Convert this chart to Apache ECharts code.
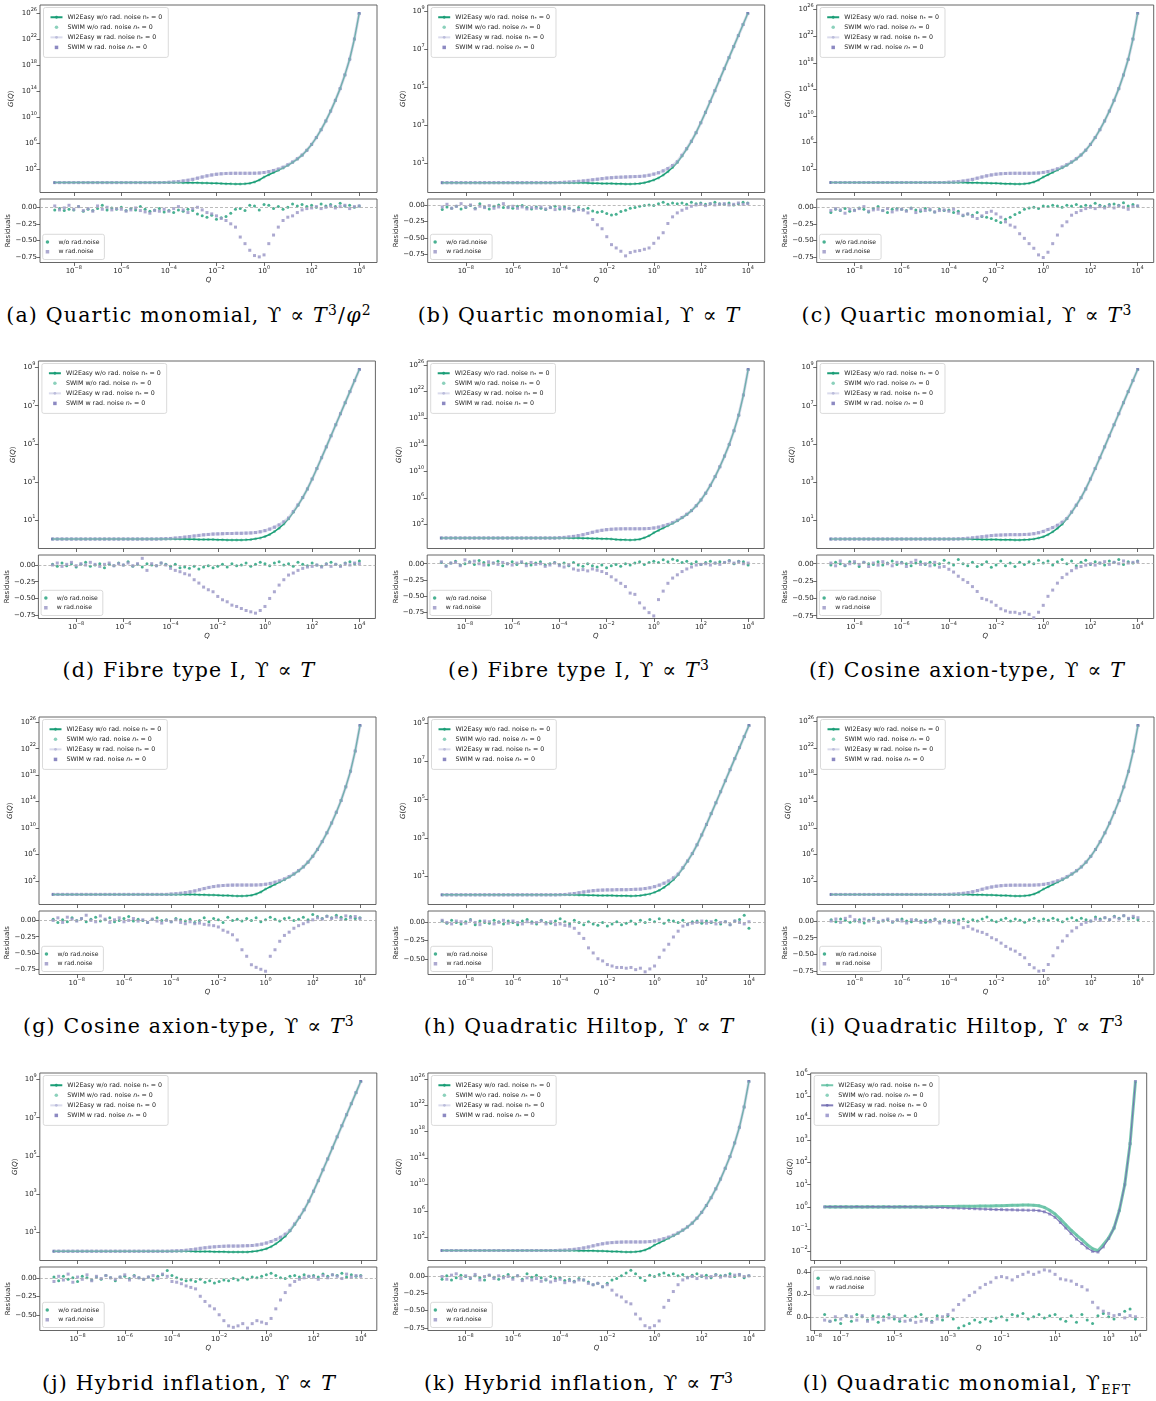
<!DOCTYPE html>
<html><head><meta charset="utf-8">
<script src="https://cdn.jsdelivr.net/npm/echarts@6.0.0/dist/echarts.min.js"></script>
<style>
html,body{margin:0;padding:0;background:#fff}
body{width:1156px;height:1401px;position:relative;overflow:hidden}
.p{position:absolute;width:378px;height:292px}
.cap{position:absolute;width:378px;text-align:center;font-family:'DejaVu Serif','Liberation Serif',serif;font-size:20.5px;line-height:24px;color:#000;white-space:nowrap;letter-spacing:1.2px}
.cap sup{font-size:0.68em;line-height:0;vertical-align:0.5em}
.cap sub{font-size:0.62em;line-height:0;vertical-align:-0.3em}
</style></head><body>
<script>
// ---------- x grids (log10 Q) ----------
const LOGQ = [
-9.0,-8.8,-8.6,-8.4,-8.2,
-8.0,-7.8,-7.6,-7.4,-7.2,
-7.0,-6.8,-6.6,-6.4,-6.2,
-6.0,-5.8,-5.6,-5.4,-5.2,
-5.0,-4.8,-4.6,-4.4,-4.2,
-4.0,-3.8,-3.6,-3.4,-3.2,
-3.0,-2.8,-2.6,-2.4,-2.2,
-2.0,-1.8,-1.6,-1.4,-1.2,
-1.0,-0.8,-0.6,-0.4,-0.2,
0.0,0.2,0.4,0.6,0.8,
1.0,1.2,1.4,1.6,1.8,
2.0,2.2,2.4,2.6,2.8,
3.0,3.2,3.4,3.6,3.8,
4.0];
const LOGQ_L = [
-7.6,-7.4,-7.2,
-7.0,-6.8,-6.6,-6.4,-6.2,
-6.0,-5.8,-5.6,-5.4,-5.2,
-5.0,-4.8,-4.6,-4.4,-4.2,
-4.0,-3.8,-3.6,-3.4,-3.2,
-3.0,-2.8,-2.6,-2.4,-2.2,
-2.0,-1.8,-1.6,-1.4,-1.2,
-1.0,-0.8,-0.6,-0.4,-0.2,
0.0,0.2,0.4,0.6,0.8,
1.0,1.2,1.4,1.6,1.8,
2.0,2.2,2.4,2.6,2.8,
3.0,3.2,3.4,3.6,3.8,
4.0];

// ---------- tick labels (exponents / values) ----------
const X_TICKS = [-8,-6,-4,-2,0,2,4];
const X_TICKS_L = [-8,-7,-5,-3,-1,1,3,4];
const Y_TICKS_A = [2,6,10,14,18,22,26];
const Y_TICKS_B = [1,3,5,7,9];
const Y_TICKS_L = [-2,-1,0,1,2,3,4,5,6];
const R_TICKS = [0,-0.25,-0.5,-0.75];
const R_TICKS_S = [0,-0.25,-0.5];
const R_TICKS_L = [0,0.2,0.4];

const MAIN_NAMES = ['WI2Easy w/o rad. noise n* = 0','SWIM w/o rad. noise n* = 0','WI2Easy w rad. noise n* = 0','SWIM w rad. noise n* = 0'];
const RES_NAMES = ['w/o rad.noise','w rad.noise'];
const CAPTIONS = [
'(a) Quartic monomial, ϒ ∝ <i>T</i><sup>3</sup>/<i>φ</i><sup>2</sup>',
'(b) Quartic monomial, ϒ ∝ <i>T</i>',
'(c) Quartic monomial, ϒ ∝ <i>T</i><sup>3</sup>',
'(d) Fibre type I, ϒ ∝ <i>T</i>',
'(e) Fibre type I, ϒ ∝ <i>T</i><sup>3</sup>',
'(f) Cosine axion-type, ϒ ∝ <i>T</i>',
'(g) Cosine axion-type, ϒ ∝ <i>T</i><sup>3</sup>',
'(h) Quadratic Hiltop, ϒ ∝ <i>T</i>',
'(i) Quadratic Hiltop, ϒ ∝ <i>T</i><sup>3</sup>',
'(j) Hybrid inflation, ϒ ∝ <i>T</i>',
'(k) Hybrid inflation, ϒ ∝ <i>T</i><sup>3</sup>',
'(l) Quadratic monomial, ϒ<sub>EFT</sub>'];

// ---------- log10 G(Q) and residuals, per panel ----------
const a_G_wo = [null,0,0,0,0, 0,0,0,0,0, 0,0,0,0,0, 0,0,0,0,0, 0,0,0,0,0,
0,0,0,-0.01,-0.02, -0.03,-0.04,-0.05,-0.07,-0.09, -0.11,-0.14,-0.17,-0.19,-0.2, -0.21,-0.18,-0.1,0.1,0.4,
0.85,1.2,1.55,1.9,2.25, 2.65,3.1,3.6,4.2,4.95, 5.85,6.9,8.1,9.45,10.95, 12.6,14.4,16.5,18.9,22.0, 25.9];
const a_G_w = [null,0,0,0,0, 0,0,0,0,0, 0,0,0,0,0, 0,0,0,0,0, 0,0,0,0,0.02,
0.05,0.1,0.16,0.25,0.36, 0.5,0.68,0.86,1.03,1.17, 1.28,1.35,1.4,1.42,1.43, 1.43,1.43,1.43,1.44,1.47,
1.55,1.68,1.85,2.07,2.35, 2.72,3.15,3.65,4.22,4.95, 5.85,6.9,8.1,9.45,10.95, 12.6,14.4,16.5,18.9,22.0, 25.9];
const a_R_wo = [null,-0.04,-0.02,-0.05,-0.03, -0.04,0.01,-0.06,-0.03,-0.05, -0.02,0.03,-0.04,-0.01,-0.03,
0.00,-0.05,-0.02,-0.04,0.01, -0.03,-0.06,-0.04,-0.02,-0.07, -0.05,-0.08,-0.04,-0.06,-0.03,
-0.05,-0.10,-0.13,-0.15,-0.12, -0.18,-0.16,-0.14,-0.09,-0.03, -0.02,-0.05,0.03,0.02,-0.04,
0.04,0.03,-0.02,0.01,-0.03, 0.00,0.05,0.02,0.04,0.01, 0.03,0.00,0.05,0.02,0.04, 0.01,0.06,0.02,0.03,0.00, 0.02];
const a_R_w = [null,0.02,-0.04,-0.01,0.03, -0.03,0.01,-0.05,-0.02,-0.06, 0.02,-0.03,0.00,-0.04,-0.02,
-0.03,-0.06,-0.04,-0.01,-0.05, -0.07,-0.09,-0.05,-0.06,-0.03, -0.06,-0.02,0.01,-0.04,-0.08,
-0.02,0.00,-0.04,-0.08,-0.10, -0.13,-0.17,-0.20,-0.25,-0.30, -0.45,-0.55,-0.65,-0.73,-0.75,
-0.72,-0.55,-0.42,-0.30,-0.20, -0.15,-0.13,-0.08,-0.04,-0.02, -0.01,0.01,-0.02,0.00,0.02, -0.01,0.01,0.03,-0.02,0.01, 0.02];

const b_G_wo = [0,0,0,0,0, 0,0,0,0,0, 0,0,0,0,0, 0,0,0,0,0, 0,0,0,0,0,
0,0,0,0,-0.01, -0.01,-0.02,-0.03,-0.03,-0.04, -0.05,-0.05,-0.06,-0.06,-0.07, -0.07,-0.06,-0.04,0,0.06,
0.14,0.25,0.4,0.58,0.8, 1.06,1.4,1.77,2.17,2.63, 3.15,3.7,4.27,4.84,5.42, 6.0,6.58,7.16,7.74,8.32, 8.9];
const b_G_w = [0,0,0,0,0, 0,0,0,0,0, 0,0,0,0,0, 0,0,0,0,0, 0,0,0,0,0,
0.01,0.02,0.03,0.05,0.07, 0.09,0.12,0.15,0.18,0.21, 0.24,0.26,0.28,0.29,0.3, 0.31,0.32,0.33,0.35,0.39,
0.45,0.52,0.62,0.74,0.9, 1.1,1.44,1.79,2.18,2.63, 3.15,3.7,4.27,4.84,5.42, 6.0,6.58,7.16,7.74,8.32, 8.9];
const b_R_wo = [-0.07,-0.03,-0.05,-0.02,-0.06, -0.04,-0.01,-0.05,0.02,-0.03, -0.06,-0.02,0.00,-0.04,-0.03,
-0.05,-0.02,-0.01,-0.04,-0.06, -0.03,-0.05,-0.07,-0.04,-0.02, -0.06,-0.03,-0.05,-0.08,-0.04,
-0.07,-0.05,-0.09,-0.11,-0.10, -0.13,-0.15,-0.14,-0.10,-0.08, -0.05,-0.04,-0.02,-0.01,0.00,
-0.01,0.02,0.04,0.01,0.03, 0.02,0.03,0.01,0.04,0.02, 0.03,0.01,0.02,0.04,0.02, 0.01,0.03,0.00,0.02,0.04, 0.03];
const b_R_w = [-0.03,0.01,-0.05,-0.02,0.02, -0.03,0.00,-0.06,-0.02,-0.04, -0.01,-0.05,-0.03,0.02,-0.04,
-0.02,-0.05,-0.03,-0.06,-0.04, -0.05,-0.03,-0.06,-0.04,-0.07, -0.04,-0.06,-0.05,-0.09,-0.07,
-0.08,-0.12,-0.22,-0.30,-0.36, -0.48,-0.60,-0.65,-0.70,-0.77, -0.72,-0.70,-0.69,-0.67,-0.65,
-0.58,-0.50,-0.42,-0.28,-0.18, -0.12,-0.08,-0.05,-0.02,0.00, 0.01,-0.01,0.02,0.00,0.01, 0.02,0.00,0.01,0.03,0.01, 0.02];

const c_G_wo = [0,0,0,0,0, 0,0,0,0,0, 0,0,0,0,0, 0,0,0,0,0, 0,0,0,0,0,
0,0,0,-0.01,-0.02, -0.03,-0.04,-0.06,-0.08,-0.1, -0.12,-0.15,-0.18,-0.2,-0.22, -0.22,-0.2,-0.12,0.08,0.38,
0.82,1.17,1.52,1.87,2.22, 2.6,3.04,3.53,4.12,4.85, 5.73,6.76,7.94,9.26,10.73, 12.35,14.11,16.17,18.52,21.56, 25.4];
const c_G_w = [0,0,0,0,0, 0,0,0,0,0, 0,0,0,0,0, 0,0,0,0,0, 0,0,0,0,0,
0.04,0.08,0.14,0.22,0.33, 0.47,0.65,0.83,1.0,1.14, 1.25,1.32,1.36,1.38,1.39, 1.39,1.39,1.39,1.4,1.43,
1.52,1.65,1.83,2.05,2.32, 2.68,3.1,3.58,4.14,4.87, 5.73,6.76,7.94,9.26,10.73, 12.35,14.11,16.17,18.52,21.56, 25.4];
const c_R_wo = [-0.08,-0.03,-0.05,-0.02,-0.06, -0.04,-0.01,-0.03,-0.07,-0.02, 0.01,-0.05,-0.08,-0.03,-0.02,
-0.03,-0.05,-0.01,-0.04,-0.06, -0.02,-0.04,-0.07,-0.03,-0.05, -0.04,-0.08,-0.06,-0.13,-0.10,
-0.12,-0.08,-0.14,-0.15,-0.17, -0.20,-0.23,-0.18,-0.15,-0.11, -0.08,-0.03,-0.01,0.00,-0.02,
0.02,0.01,0.03,0.02,0.00, 0.03,0.02,0.04,0.01,0.03, 0.02,0.06,0.03,0.01,0.04, 0.05,0.03,0.07,0.02,0.04, 0.02];
const c_R_w = [-0.05,-0.02,-0.04,-0.09,-0.03, -0.05,-0.02,0.01,-0.06,-0.04, -0.03,-0.05,-0.02,-0.07,-0.04,
-0.03,-0.06,-0.02,-0.08,-0.04, -0.05,-0.03,-0.07,-0.05,-0.04, -0.06,-0.03,-0.09,-0.12,-0.10,
-0.14,-0.17,-0.13,-0.08,-0.06, -0.10,-0.15,-0.22,-0.27,-0.30, -0.40,-0.47,-0.55,-0.62,-0.72,
-0.76,-0.68,-0.55,-0.42,-0.28, -0.22,-0.12,-0.08,-0.05,-0.02, 0.00,-0.02,0.01,-0.01,0.02, -0.01,0.02,0.00,-0.03,0.01, 0.02];

const d_G_wo = [0,0,0,0,0, 0,0,0,0,0, 0,0,0,0,0, 0,0,0,0,0, 0,0,0,0,0,
0,0,0,0,-0.01, -0.01,-0.02,-0.02,-0.03,-0.03, -0.04,-0.04,-0.05,-0.05,-0.05, -0.05,-0.04,-0.02,0.01,0.06,
0.13,0.24,0.39,0.57,0.79, 1.06,1.4,1.77,2.17,2.63, 3.15,3.7,4.27,4.84,5.42, 6.0,6.58,7.16,7.74,8.32, 8.9];
const d_G_w = [0,0,0,0,0, 0,0,0,0,0, 0,0,0,0,0, 0,0,0,0,0, 0,0,0,0.01,0.02,
0.03,0.05,0.07,0.1,0.13, 0.16,0.19,0.22,0.24,0.26, 0.27,0.28,0.29,0.29,0.3, 0.3,0.31,0.32,0.34,0.38,
0.44,0.52,0.62,0.74,0.9, 1.1,1.44,1.79,2.18,2.63, 3.15,3.7,4.27,4.84,5.42, 6.0,6.58,7.16,7.74,8.32, 8.9];
const d_R_wo = [0.01,-0.02,0.03,-0.01,0.02, -0.03,0.01,0.04,-0.02,0.00, 0.02,-0.04,0.01,-0.01,0.03,
0.00,0.05,-0.02,0.01,-0.03, 0.02,0.00,-0.01,0.03,0.01, -0.02,0.01,-0.04,-0.03,-0.05,
-0.02,-0.06,-0.03,-0.01,-0.04, -0.02,0.01,-0.03,0.02,-0.01, 0.00,0.03,-0.02,0.01,0.04,
0.02,-0.01,0.03,0.05,0.00, 0.02,-0.02,0.04,0.01,-0.01, 0.03,0.00,-0.02,0.02,0.04, 0.01,-0.01,0.03,0.05,0.02, 0.06];
const d_R_w = [0.00,0.03,-0.02,0.01,0.04, -0.01,0.02,0.00,0.04,0.01, -0.02,0.01,0.03,-0.01,0.02,
0.00,0.03,-0.01,0.02,0.10, -0.08,0.02,-0.01,0.03,0.00, -0.05,-0.08,-0.10,-0.13,-0.15,
-0.22,-0.27,-0.33,-0.37,-0.40, -0.47,-0.52,-0.55,-0.60,-0.62, -0.65,-0.68,-0.70,-0.72,-0.68,
-0.62,-0.50,-0.40,-0.30,-0.22, -0.15,-0.12,-0.08,-0.05,-0.03, -0.02,0.00,-0.03,0.01,-0.02, 0.01,-0.02,0.02,0.00,0.03, 0.02];

const e_G_wo = [0,0,0,0,0, 0,0,0,0,0, 0,0,0,0,0, 0,0,0,0,0, 0,0,0,0,0,
0,0,0,-0.01,-0.02, -0.03,-0.05,-0.07,-0.09,-0.11, -0.13,-0.17,-0.21,-0.25,-0.28, -0.3,-0.27,-0.18,0.02,0.33,
0.78,1.14,1.5,1.85,2.2, 2.58,3.03,3.51,4.1,4.83, 5.71,6.73,7.91,9.22,10.69, 12.3,14.06,16.1,18.45,21.48, 25.3];
const e_G_w = [0,0,0,0,0, 0,0,0,0,0, 0,0,0,0,0, 0,0,0,0,0, 0,0,0,0,0,
0.04,0.09,0.15,0.24,0.35, 0.49,0.67,0.85,1.02,1.15, 1.25,1.31,1.35,1.37,1.38, 1.38,1.38,1.38,1.39,1.42,
1.5,1.63,1.81,2.03,2.3, 2.66,3.08,3.56,4.12,4.84, 5.71,6.73,7.91,9.22,10.69, 12.3,14.06,16.1,18.45,21.48, 25.3];
const e_R_wo = [0.02,-0.03,0.01,0.04,-0.02, 0.00,0.03,-0.01,0.05,0.02, -0.02,0.01,0.04,-0.03,0.00,
0.03,-0.01,0.02,0.00,-0.02, 0.01,0.03,-0.02,0.00,0.02, -0.01,0.01,-0.03,0.02,-0.02,
-0.04,0.00,-0.03,-0.05,-0.02, -0.06,-0.03,-0.01,-0.04,0.00, -0.02,0.01,0.03,-0.01,0.02,
0.04,0.02,0.06,0.03,0.07, 0.05,0.02,0.04,0.00,0.03, -0.01,0.02,0.04,0.01,0.03, 0.02,0.05,0.00,0.04,0.03, -0.02];
const e_R_w = [0.03,-0.04,0.01,0.02,-0.03, 0.06,0.02,0.04,0.00,-0.02, 0.03,0.01,-0.01,0.02,0.00,
-0.02,0.01,0.03,-0.03,0.02, -0.01,0.00,-0.04,-0.02,0.01, -0.03,-0.05,-0.02,-0.08,-0.10,
-0.09,-0.11,-0.08,-0.10,-0.12, -0.15,-0.20,-0.25,-0.30,-0.35, -0.45,-0.47,-0.60,-0.68,-0.75,
-0.80,-0.55,-0.42,-0.30,-0.22, -0.17,-0.12,-0.08,-0.05,-0.02, -0.01,0.00,-0.02,0.01,-0.01, 0.02,0.04,0.01,0.03,0.00, 0.01];

const f_G_wo = [0,0,0,0,0, 0,0,0,0,0, 0,0,0,0,0, 0,0,0,0,0, 0,0,0,0,0,
0,0,0,0,0, -0.01,-0.01,-0.02,-0.02,-0.03, -0.03,-0.04,-0.04,-0.04,-0.05, -0.05,-0.04,-0.03,0,0.05,
0.12,0.23,0.38,0.56,0.78, 1.06,1.4,1.77,2.17,2.63, 3.15,3.7,4.27,4.84,5.42, 6.0,6.58,7.16,7.74,8.32, 8.9];
const f_G_w = [0,0,0,0,0, 0,0,0,0,0, 0,0,0,0,0, 0,0,0,0,0, 0,0,0,0,0,
0,0,0.01,0.02,0.04, 0.06,0.09,0.12,0.15,0.18, 0.2,0.21,0.22,0.23,0.23, 0.23,0.24,0.25,0.28,0.33,
0.4,0.5,0.6,0.72,0.88, 1.08,1.42,1.78,2.17,2.63, 3.15,3.7,4.27,4.84,5.42, 6.0,6.58,7.16,7.74,8.32, 8.9];
const f_R_wo = [-0.02,0.02,0.00,-0.03,0.03, 0.01,-0.04,0.02,0.00,-0.01, 0.03,-0.02,0.01,0.04,-0.01,
0.02,0.00,-0.03,0.01,0.03, -0.01,0.02,-0.02,0.00,0.05, 0.01,-0.02,0.06,0.00,-0.03,
0.02,-0.04,-0.01,0.03,-0.05, -0.02,0.04,-0.03,0.01,-0.04, 0.02,-0.01,0.03,0.00,0.05,
0.01,0.04,-0.02,0.03,0.06, 0.00,0.04,-0.03,0.02,0.05, -0.01,0.03,0.01,-0.02,0.04, 0.02,0.06,-0.01,0.03,0.01, 0.04];
const f_R_w = [0.01,-0.03,0.04,-0.02,0.00, 0.03,-0.01,0.02,-0.04,0.01, -0.02,0.03,0.00,-0.03,0.02,
0.01,-0.04,0.02,0.05,-0.01, 0.00,-0.03,0.02,-0.05,-0.04, -0.08,-0.12,-0.18,-0.23,-0.27,
-0.33,-0.40,-0.50,-0.52,-0.55, -0.60,-0.65,-0.68,-0.70,-0.70, -0.72,-0.70,-0.73,-0.78,-0.70,
-0.60,-0.47,-0.38,-0.28,-0.20, -0.15,-0.10,-0.06,-0.04,-0.02, 0.00,-0.02,0.01,0.03,-0.01, 0.02,0.00,0.04,0.01,0.02, 0.03];

const g_G_wo = [0,0,0,0,0, 0,0,0,0,0, 0,0,0,0,0, 0,0,0,0,0, 0,0,0,0,0,
0,0,-0.01,-0.01,-0.02, -0.03,-0.04,-0.06,-0.08,-0.1, -0.12,-0.15,-0.18,-0.21,-0.23, -0.24,-0.21,-0.13,0.06,0.36,
0.8,1.16,1.51,1.86,2.22, 2.61,3.05,3.54,4.13,4.87, 5.76,6.79,7.97,9.3,10.78, 12.41,14.18,16.24,18.61,21.66, 25.5];
const g_G_w = [0,0,0,0,0, 0,0,0,0,0, 0,0,0,0,0, 0,0,0,0,0, 0,0,0,0,0,
0.05,0.1,0.17,0.26,0.38, 0.52,0.7,0.88,1.05,1.18, 1.28,1.34,1.38,1.4,1.41, 1.41,1.41,1.41,1.42,1.45,
1.53,1.66,1.84,2.06,2.33, 2.68,3.1,3.59,4.15,4.88, 5.76,6.79,7.97,9.3,10.78, 12.41,14.18,16.24,18.61,21.66, 25.5];
const g_R_wo = [0.02,-0.03,0.01,-0.02,0.04, 0.00,0.03,-0.02,0.02,0.05, -0.01,0.01,0.04,-0.02,0.00,
0.03,0.06,-0.01,0.02,0.00, -0.03,0.02,0.04,0.00,0.01, -0.02,0.03,0.01,-0.01,0.02,
-0.03,0.00,0.04,-0.02,0.03, 0.01,-0.03,0.05,0.00,0.02, -0.01,0.03,0.00,0.04,-0.02,
0.01,0.05,0.02,-0.01,0.03, 0.04,0.00,0.02,0.05,0.01, 0.09,0.06,0.03,0.07,0.04, 0.08,0.05,0.02,0.06,0.03, 0.04];
const g_R_w = [0.00,0.04,-0.03,0.05,0.02, -0.01,0.03,0.08,0.00,-0.02, 0.07,0.02,-0.03,0.01,0.04,
-0.02,0.00,0.03,-0.01,0.01, -0.03,0.02,-0.01,-0.04,0.00, -0.02,0.01,-0.03,-0.05,-0.02,
-0.05,-0.04,-0.06,-0.07,-0.08, -0.10,-0.15,-0.18,-0.22,-0.30, -0.45,-0.55,-0.68,-0.72,-0.75,
-0.78,-0.55,-0.45,-0.32,-0.23, -0.18,-0.12,-0.08,-0.05,-0.02, 0.01,0.04,0.02,0.06,0.03, 0.05,0.02,0.07,0.04,0.06, 0.03];

const h_G_wo = [0,0,0,0,0, 0,0,0,0,0, 0,0,0,0,0, 0,0,0,0,0, 0,0,0,0,0,
0,0,0,0,-0.01, -0.01,-0.02,-0.02,-0.03,-0.03, -0.04,-0.04,-0.05,-0.05,-0.05, -0.06,-0.05,-0.03,0,0.05,
0.13,0.24,0.39,0.57,0.79, 1.06,1.4,1.77,2.17,2.63, 3.15,3.7,4.27,4.84,5.42, 6.0,6.58,7.16,7.74,8.32, 8.9];
const h_G_w = [0,0,0,0,0, 0,0,0,0,0, 0,0,0,0,0, 0,0,0,0,0, 0,0,0,0,0,
0.01,0.02,0.04,0.07,0.11, 0.15,0.19,0.22,0.24,0.25, 0.26,0.26,0.27,0.27,0.27, 0.28,0.29,0.3,0.33,0.37,
0.43,0.51,0.61,0.73,0.89, 1.09,1.43,1.78,2.17,2.63, 3.15,3.7,4.27,4.84,5.42, 6.0,6.58,7.16,7.74,8.32, 8.9];
const h_R_wo = [0.02,-0.01,0.03,0.00,-0.02, 0.01,0.04,-0.03,0.02,0.00, -0.01,0.03,0.01,-0.02,0.02,
0.00,-0.03,0.02,0.04,0.01, -0.02,0.03,0.00,-0.01,0.02, 0.05,0.01,-0.02,0.03,0.00,
-0.03,0.01,-0.02,-0.04,0.00, -0.05,-0.02,0.01,-0.03,-0.01, 0.02,-0.02,0.03,0.00,0.04,
0.01,0.05,-0.01,0.03,0.02, 0.00,0.03,-0.02,0.01,0.02, -0.01,0.02,0.00,0.03,-0.02, 0.01,-0.03,0.02,0.04,0.10, -0.08];
const h_R_w = [0.03,0.00,-0.02,0.02,0.01, -0.01,0.03,0.00,-0.03,0.02, 0.01,-0.02,0.00,0.03,-0.01,
0.02,0.00,-0.02,0.01,-0.01, 0.00,0.02,-0.02,0.01,-0.03, -0.02,-0.04,-0.05,-0.08,-0.15,
-0.22,-0.35,-0.42,-0.50,-0.53, -0.58,-0.60,-0.62,-0.62,-0.63, -0.62,-0.65,-0.63,-0.68,-0.64,
-0.60,-0.48,-0.38,-0.30,-0.20, -0.12,-0.05,-0.03,-0.01,0.00, 0.02,-0.01,0.01,-0.02,0.00, 0.01,-0.03,0.02,0.00,-0.02, 0.01];

const i_G_wo = [0,0,0,0,0, 0,0,0,0,0, 0,0,0,0,0, 0,0,0,0,0, 0,0,0,0,0,
0,0,0,-0.01,-0.02, -0.03,-0.04,-0.05,-0.07,-0.09, -0.11,-0.14,-0.17,-0.2,-0.22, -0.23,-0.2,-0.12,0.07,0.37,
0.81,1.16,1.51,1.86,2.21, 2.6,3.04,3.53,4.12,4.85, 5.73,6.76,7.94,9.26,10.73, 12.35,14.11,16.17,18.52,21.56, 25.4];
const i_G_w = [0,0,0,0,0, 0,0,0,0,0, 0,0,0,0,0, 0,0,0,0,0, 0,0,0,0,0,
0.02,0.05,0.1,0.17,0.27, 0.4,0.58,0.78,0.97,1.12, 1.24,1.32,1.37,1.39,1.4, 1.4,1.4,1.4,1.41,1.44,
1.52,1.65,1.83,2.05,2.32, 2.68,3.1,3.58,4.14,4.87, 5.73,6.76,7.94,9.26,10.73, 12.35,14.11,16.17,18.52,21.56, 25.4];
const i_R_wo = [0.02,-0.01,0.03,0.01,-0.02, 0.00,0.02,-0.03,0.01,0.03, -0.01,0.00,0.02,-0.02,0.01,
0.03,0.00,-0.01,0.02,0.00, -0.02,0.01,0.03,-0.01,0.02, 0.00,-0.02,0.01,0.03,-0.01,
0.02,0.00,0.03,0.06,0.01, -0.01,0.02,0.04,0.00,0.03, 0.01,-0.02,0.02,0.04,0.00,
0.03,0.01,0.04,0.02,-0.01, 0.03,0.05,0.01,0.04,0.02, 0.00,0.06,0.03,0.05,0.02, 0.07,0.04,0.08,0.03,0.05, 0.02];
const i_R_w = [0.00,0.03,-0.02,0.04,0.07, 0.02,-0.01,0.03,0.00,0.04, -0.02,0.01,0.03,-0.01,0.02,
0.00,-0.03,0.02,0.01,-0.02, 0.01,-0.01,0.02,-0.03,0.00, -0.02,0.01,-0.04,-0.10,-0.08,
-0.12,-0.15,-0.17,-0.20,-0.25, -0.28,-0.33,-0.38,-0.42,-0.45, -0.50,-0.55,-0.65,-0.70,-0.75,
-0.74,-0.65,-0.52,-0.40,-0.30, -0.22,-0.15,-0.10,-0.05,-0.02, 0.00,0.03,0.01,0.05,0.02, 0.06,0.03,0.08,0.04,0.07, 0.05];

const j_G_wo = [0,0,0,0,0, 0,0,0,0,0, 0,0,0,0,0, 0,0,0,0,0, 0,0,0,0,0,
0,0,0,0,0, -0.01,-0.01,-0.02,-0.02,-0.03, -0.03,-0.03,-0.04,-0.04,-0.04, -0.04,-0.04,-0.02,0.01,0.06,
0.13,0.24,0.39,0.57,0.79, 1.06,1.4,1.77,2.17,2.63, 3.15,3.7,4.27,4.84,5.42, 6.0,6.58,7.16,7.74,8.32, 8.9];
const j_G_w = [0,0,0,0,0, 0,0,0,0,0, 0,0,0,0,0, 0,0,0,0,0, 0,0,0,0,0,
0.01,0.02,0.03,0.05,0.08, 0.11,0.15,0.18,0.21,0.23, 0.25,0.26,0.27,0.27,0.27, 0.28,0.29,0.3,0.33,0.37,
0.43,0.51,0.61,0.73,0.89, 1.09,1.43,1.78,2.17,2.63, 3.15,3.7,4.27,4.84,5.42, 6.0,6.58,7.16,7.74,8.32, 8.9];
const j_R_wo = [0.01,-0.04,0.02,-0.02,0.00, -0.05,0.02,0.00,-0.03,0.01, -0.02,0.03,0.00,-0.04,0.01,
0.02,-0.01,0.03,0.00,-0.02, 0.01,-0.03,0.02,0.04,0.10, 0.03,0.00,-0.02,-0.04,-0.03,
-0.05,-0.02,-0.06,-0.04,-0.07, -0.05,-0.03,-0.04,-0.01,-0.03, 0.00,-0.02,0.01,0.00,0.02,
0.04,0.06,0.03,0.00,-0.01, 0.02,0.03,0.01,0.04,0.02, 0.03,0.01,0.05,0.02,0.04, 0.03,0.06,0.01,0.04,0.02, 0.03];
const j_R_w = [-0.05,0.02,-0.03,0.05,-0.06, 0.01,-0.02,0.04,-0.04,0.02, -0.01,0.03,0.00,-0.02,0.01,
0.04,-0.03,0.02,0.00,-0.02, 0.01,0.03,-0.01,0.05,0.02, -0.05,-0.06,-0.08,-0.11,-0.13,
-0.15,-0.25,-0.32,-0.38,-0.42, -0.50,-0.58,-0.65,-0.67,-0.65, -0.62,-0.68,-0.62,-0.58,-0.60,
-0.62,-0.55,-0.42,-0.30,-0.20, -0.10,-0.05,-0.02,0.00,0.02, 0.01,-0.02,0.03,0.00,0.04, 0.02,-0.01,0.05,0.01,0.03, 0.02];

const k_G_wo = [0,0,0,0,0, 0,0,0,0,0, 0,0,0,0,0, 0,0,0,0,0, 0,0,0,0,0,
0,0,0,-0.01,-0.02, -0.03,-0.04,-0.05,-0.06,-0.08, -0.1,-0.13,-0.16,-0.19,-0.21, -0.22,-0.19,-0.11,0.08,0.38,
0.82,1.17,1.52,1.87,2.22, 2.62,3.06,3.56,4.15,4.89, 5.78,6.82,8.0,9.34,10.82, 12.46,14.23,16.3,18.68,21.75, 25.6];
const k_G_w = [0,0,0,0,0, 0,0,0,0,0, 0,0,0,0,0, 0,0,0,0,0, 0,0,0,0,0,
0.03,0.06,0.11,0.18,0.27, 0.39,0.54,0.71,0.88,1.02, 1.13,1.2,1.25,1.28,1.3, 1.3,1.3,1.3,1.31,1.35,
1.45,1.6,1.79,2.02,2.31, 2.66,3.1,3.58,4.16,4.9, 5.78,6.82,8.0,9.34,10.82, 12.46,14.23,16.3,18.68,21.75, 25.6];
const k_R_wo = [-0.04,0.01,-0.05,-0.02,0.02, 0.00,-0.03,0.01,-0.02,-0.05, 0.02,-0.01,-0.04,0.00,0.03,
-0.02,0.01,-0.04,0.04,-0.01, 0.02,-0.02,-0.05,0.00,-0.03, -0.02,-0.06,-0.04,-0.07,-0.03,
-0.05,-0.08,-0.12,-0.10,-0.15, -0.10,-0.05,-0.03,0.01,0.05, 0.09,0.04,-0.02,-0.06,0.02,
0.00,0.03,0.05,0.02,0.04, 0.01,0.03,-0.01,0.02,0.04, 0.00,0.02,-0.02,0.03,0.01, 0.02,0.04,0.00,0.03,-0.02, 0.01];
const k_R_w = [0.00,-0.04,0.02,0.04,-0.03, 0.01,-0.02,0.03,-0.05,0.00, 0.02,-0.03,0.01,-0.02,0.00,
-0.04,0.01,-0.06,-0.02,-0.05, -0.03,-0.07,-0.04,-0.08,-0.06, -0.04,-0.09,-0.06,-0.08,-0.05,
-0.05,-0.10,-0.12,-0.10,-0.15, -0.12,-0.20,-0.27,-0.30,-0.37, -0.40,-0.55,-0.62,-0.72,-0.75,
-0.72,-0.65,-0.45,-0.35,-0.22, -0.12,-0.05,-0.02,0.00,-0.03, 0.01,-0.02,0.00,0.02,-0.01, 0.01,0.00,0.02,0.03,0.00, 0.01];

const l_G_wo = [0.01,0,0.01, 0,0.01,0,0.01,0, 0.01,0,0,0.01,0, 0,0.01,0,0,0.01, 0,0,0.01,0.01,0.02,
0.02,0.02,0.03,0.03,0.03, 0.03,0.04,0.04,0.04,0.05, 0.05,0.06,0.07,0.08,0.09,
0.09,0.08,0.05,-0.02,-0.15, -0.32,-0.55,-0.8,-1.05,-1.27, -1.47,-1.7,-1.88,-1.97,-1.7,
-1.4,-0.95,-0.15,1.0,2.85, 5.65];
const l_G_w = [0,0.01,0, 0.01,0,0,0.01,0, 0,0.01,0,0,0.01, 0,0,0.01,0,0, 0,-0.01,-0.01,-0.02,-0.02,
-0.03,-0.04,-0.05,-0.06,-0.07, -0.08,-0.09,-0.1,-0.11,-0.12, -0.12,-0.13,-0.13,-0.14,-0.14,
-0.15,-0.15,-0.17,-0.22,-0.32, -0.47,-0.7,-0.95,-1.2,-1.45, -1.65,-1.85,-2.0,-2.03,-1.8,
-1.42,-0.95,-0.15,1.0,2.85, 5.65];
const l_R_wo = [0.02,-0.04,-0.03, -0.06,0.01,-0.04,0.02,0.00, -0.03,0.01,-0.05,0.00,0.02,
-0.02,-0.04,0.01,-0.03,0.00, 0.02,-0.02,-0.04,0.01,-0.03, 0.01,-0.02,-0.10,-0.08,-0.06,
-0.03,-0.05,-0.02,-0.04,-0.01, 0.00,-0.03,0.02,0.01,0.03, -0.02,0.00,0.02,-0.01,0.01,
0.02,-0.02,-0.04,0.01,-0.05, 0.02,-0.03,-0.06,0.01,0.03, 0.00,-0.02,0.02,0.05,0.07, -0.02];
const l_R_w = [-0.03,-0.04,0.00, -0.02,0.01,0.00,-0.03,0.01, -0.04,-0.02,0.00,-0.03,-0.01,
0.00,-0.02,-0.04,-0.03,-0.05, -0.04,-0.03,-0.05,-0.02,0.00, 0.02,0.06,0.11,0.15,0.19,
0.22,0.26,0.29,0.31,0.35, 0.36,0.35,0.33,0.36,0.38, 0.40,0.38,0.40,0.42,0.41,
0.38,0.34,0.33,0.32,0.29, 0.27,0.24,0.13,0.08,0.05, 0.03,0.01,0.02,-0.01,0.01, 0.00];

// ---------- panel layout config ----------
const PANELS = [
 {q:LOGQ,gwo:a_G_wo,gw:a_G_w,rwo:a_R_wo,rw:a_R_w,yt:Y_TICKS_A,xt:X_TICKS,xr:[-9.42,4.75],rr:[-0.835,0.125],rt:R_TICKS,gl:40,ng:25,rg:28},
 {q:LOGQ,gwo:b_G_wo,gw:b_G_w,rwo:b_R_wo,rw:b_R_w,yt:Y_TICKS_B,xt:X_TICKS,xr:[-9.62,4.72],rr:[-0.87,0.09],rt:R_TICKS,gl:38.7,ng:21.5,rg:28},
 {q:LOGQ,gwo:c_G_wo,gw:c_G_w,rwo:c_R_wo,rw:c_R_w,yt:Y_TICKS_A,xt:X_TICKS,xr:[-9.6,4.68],rr:[-0.835,0.125],rt:R_TICKS,gl:38.7,ng:25,rg:28},
 {q:LOGQ,gwo:d_G_wo,gw:d_G_w,rwo:d_R_wo,rw:d_R_w,yt:Y_TICKS_B,xt:X_TICKS,xr:[-9.6,4.68],rr:[-0.80,0.15],rt:R_TICKS,gl:38.4,ng:21.5,rg:28},
 {q:LOGQ,gwo:e_G_wo,gw:e_G_w,rwo:e_R_wo,rw:e_R_w,yt:Y_TICKS_A,xt:X_TICKS,xr:[-9.6,4.68],rr:[-0.84,0.134],rt:R_TICKS,gl:38.2,ng:25,rg:28},
 {q:LOGQ,gwo:f_G_wo,gw:f_G_w,rwo:f_R_wo,rw:f_R_w,yt:Y_TICKS_B,xt:X_TICKS,xr:[-9.6,4.68],rr:[-0.79,0.126],rt:R_TICKS,gl:38.7,ng:21.5,rg:28},
 {q:LOGQ,gwo:g_G_wo,gw:g_G_w,rwo:g_R_wo,rw:g_R_w,yt:Y_TICKS_A,xt:X_TICKS,xr:[-9.6,4.68],rr:[-0.83,0.145],rt:R_TICKS,gl:39,ng:25,rg:28},
 {q:LOGQ,gwo:h_G_wo,gw:h_G_w,rwo:h_R_wo,rw:h_R_w,yt:Y_TICKS_B,xt:X_TICKS,xr:[-9.6,4.68],rr:[-0.717,0.158],rt:R_TICKS_S,gl:39,ng:21.5,rg:28},
 {q:LOGQ,gwo:i_G_wo,gw:i_G_w,rwo:i_R_wo,rw:i_R_w,yt:Y_TICKS_A,xt:X_TICKS,xr:[-9.6,4.68],rr:[-0.80,0.15],rt:R_TICKS,gl:39,ng:25,rg:28},
 {q:LOGQ,gwo:j_G_wo,gw:j_G_w,rwo:j_R_wo,rw:j_R_w,yt:Y_TICKS_B,xt:X_TICKS,xr:[-9.6,4.68],rr:[-0.713,0.146],rt:R_TICKS_S,gl:39.8,ng:21.5,rg:28},
 {q:LOGQ,gwo:k_G_wo,gw:k_G_w,rwo:k_R_wo,rw:k_R_w,yt:Y_TICKS_A,xt:X_TICKS,xr:[-9.6,4.68],rr:[-0.79,0.139],rt:R_TICKS,gl:38.9,ng:25,rg:28},
 {q:LOGQ_L,gwo:l_G_wo,gw:l_G_w,rwo:l_R_wo,rw:l_R_w,yt:Y_TICKS_L,xt:X_TICKS_L,xr:[-8.12,4.42],rr:[-0.123,0.446],rt:R_TICKS_L,gl:32.7,ng:17,rg:17,l:true}
];

const COLS=[0,389,778], ROWS=[0,356,712.3,1068.3], CAP_TOP=[303,658,1014,1371], CAP_COLS=[0,390,778];
const FONT='DejaVu Sans', TXT='#262626';
const SUP={s:{fontSize:5,fontFamily:FONT,color:TXT,padding:[0,0,7,0]}};
const SQUARE='path://M0,0L10,0L10,10L0,10Z';
const expLabel=v=>{const e=Math.round(v);return '10{s|'+(e<0?'\u2212':'')+Math.abs(e)+'}';};
const resLabel=dec=>v=>(v<-1e-9?'\u2212':'')+Math.abs(v).toFixed(dec);
const LEG_FMT={};
LEG_FMT[MAIN_NAMES[0]]='WI2Easy w/o rad. noise n{s|*} = 0';
LEG_FMT[MAIN_NAMES[1]]='SWIM w/o rad. noise {i|n}{s|*} = 0';
LEG_FMT[MAIN_NAMES[2]]='WI2Easy w rad. noise n{s|*} = 0';
LEG_FMT[MAIN_NAMES[3]]='SWIM w rad. noise {i|n}{s|*} = 0';
const LEG_RICH={s:{fontSize:4.5,fontFamily:FONT,color:'#222',padding:[3,0,0,0]},i:{fontSize:6.3,fontStyle:'italic',fontFamily:FONT,color:'#222'}};
const pts=(q,v)=>q.map((x,i)=>[x,v[i]]).filter(p=>p[1]!=null&&p[1]!==undefined);
const problems=[];
const tick={show:true,inside:false,length:3.5,lineStyle:{color:'#444',width:0.8}};

PANELS.forEach((P,idx)=>{
  ['gwo','gw','rwo','rw'].forEach(k=>{if(P[k].length!==P.q.length)problems.push(idx+':'+k+':'+P[k].length+'/'+P.q.length);});
  const col=idx%3,row=Math.floor(idx/3);
  const el=document.createElement('div');el.className='p';el.style.left=COLS[col]+'px';el.style.top=ROWS[row]+'px';
  document.body.appendChild(el);
  const ch=echarts.init(el,null,{renderer:'canvas'});
  const all=P.gwo.concat(P.gw).filter(v=>v!=null);
  const mn=Math.min(...all),mx=Math.max(...all),sp=mx-mn;
  const ymin=mn-0.05*sp,ymax=mx+0.05*sp;
  const gx=P.gl,gw=P.l?336:337,H=292;
  const st=P.l?{c0:'#66c2a5',w0:3,o0:0.9,c1:'#66c2a5',c2:'#7570b3',w2:1.2,o2:0.9,c3:'#8f8ac6'}
              :{c0:'#1b9e77',w0:1.5,o0:1,c1:'#66c2a5',c2:'#bcbddc',w2:3,o2:0.55,c3:'#6f6bb3'};
  const xAx=(gi,lbl)=>({gridIndex:gi,type:'value',min:P.xr[0],max:P.xr[1],nameMoveOverlap:false,
    axisLine:{show:false,onZero:false},splitLine:{show:false},
    axisTick:Object.assign({},tick,{customValues:P.xt}),
    axisLabel:{show:lbl,customValues:P.xt,formatter:expLabel,fontSize:7,fontFamily:FONT,color:TXT,margin:3,rich:SUP},
    name:lbl?'Q':'',nameLocation:'middle',nameGap:14,
    nameTextStyle:{fontSize:7,fontFamily:FONT,fontStyle:'italic',color:TXT}});
  const gridBase={show:true,borderColor:'#555',borderWidth:0.9,containLabel:false,outerBoundsMode:'none'};
  const opt={
    animation:false,
    grid:[Object.assign({left:gx,top:5,width:gw,height:187.5},gridBase),
          Object.assign({left:gx,top:199,width:gw,height:63.5},gridBase)],
    xAxis:[xAx(0,false),xAx(1,true)],
    yAxis:[
      {gridIndex:0,type:'value',min:ymin,max:ymax,nameMoveOverlap:false,axisLine:{show:false,onZero:false},splitLine:{show:false},
       axisTick:Object.assign({},tick,{customValues:P.yt}),
       axisLabel:{customValues:P.yt,formatter:expLabel,fontSize:7,fontFamily:FONT,color:TXT,margin:3,rich:SUP},
       name:'{i|G}({i|Q})',nameLocation:'middle',nameGap:P.ng,nameRotate:90,
       nameTextStyle:{fontSize:7,fontFamily:FONT,color:TXT,rich:{i:{fontSize:7,fontStyle:'italic',fontFamily:FONT,color:TXT}}}},
      {gridIndex:1,type:'value',min:P.rr[0],max:P.rr[1],nameMoveOverlap:false,axisLine:{show:false,onZero:false},splitLine:{show:false},
       axisTick:Object.assign({},tick,{customValues:P.rt}),
       axisLabel:{customValues:P.rt,formatter:resLabel(P.l?1:2),fontSize:7,fontFamily:FONT,color:TXT,margin:3},
       name:'Residuals',nameLocation:'middle',nameGap:P.rg,nameRotate:90,
       nameTextStyle:{fontSize:7,fontFamily:FONT,color:TXT}}
    ],
    legend:[
      {data:[{name:MAIN_NAMES[0]},{name:MAIN_NAMES[1],icon:'circle'},{name:MAIN_NAMES[2]},{name:MAIN_NAMES[3],icon:SQUARE}],
       orient:'vertical',left:gx+3.5,top:7.5,itemWidth:12,itemHeight:3.5,itemGap:2.3,symbolKeepAspect:true,
       padding:[6,6,6,6],backgroundColor:'rgba(255,255,255,0.85)',borderColor:'#d0d0d0',borderWidth:0.8,borderRadius:2,
       selectedMode:false,formatter:n=>LEG_FMT[n],
       textStyle:{fontSize:6.3,fontFamily:FONT,color:'#222',lineHeight:7.5,rich:LEG_RICH}},
      Object.assign({data:[{name:RES_NAMES[0],icon:'circle'},{name:RES_NAMES[1],icon:SQUARE}],
       orient:'vertical',left:gx+2.7,itemWidth:12,itemHeight:3.5,itemGap:2.2,symbolKeepAspect:true,
       padding:[4,5,4,3],backgroundColor:'rgba(255,255,255,0.85)',borderColor:'#d0d0d0',borderWidth:0.8,borderRadius:2,
       selectedMode:false,textStyle:{fontSize:6.1,fontFamily:FONT,color:'#222',lineHeight:7.5}},
       P.l?{top:202.4}:{bottom:H-262.5+3})
    ],
    series:[
      {name:MAIN_NAMES[0],type:'line',xAxisIndex:0,yAxisIndex:0,data:pts(P.q,P.gwo),symbol:'none',showSymbol:false,
       lineStyle:{color:st.c0,width:st.w0,opacity:st.o0},itemStyle:{color:st.c0},silent:true},
      {name:MAIN_NAMES[1],type:'scatter',xAxisIndex:0,yAxisIndex:0,data:pts(P.q,P.gwo),symbol:'circle',symbolSize:3,
       itemStyle:{color:st.c1,opacity:0.75},silent:true},
      {name:MAIN_NAMES[2],type:'line',xAxisIndex:0,yAxisIndex:0,data:pts(P.q,P.gw),symbol:'none',showSymbol:false,
       lineStyle:{color:st.c2,width:st.w2,opacity:st.o2},itemStyle:{color:st.c2},silent:true},
      {name:MAIN_NAMES[3],type:'scatter',xAxisIndex:0,yAxisIndex:0,data:pts(P.q,P.gw),symbol:'rect',symbolSize:3,
       itemStyle:{color:st.c3,opacity:0.8},silent:true},
      {name:RES_NAMES[0],type:'scatter',xAxisIndex:1,yAxisIndex:1,data:pts(P.q,P.rwo),symbol:'circle',symbolSize:3,
       itemStyle:{color:'#1b9e77'},silent:true,
       markLine:{silent:true,symbol:'none',label:{show:false},animation:false,
         lineStyle:{color:'#aaaaaa',type:[3,2],width:0.8},data:[{yAxis:0}]}},
      {name:RES_NAMES[1],type:'scatter',xAxisIndex:1,yAxisIndex:1,data:pts(P.q,P.rw),symbol:'rect',symbolSize:3,
       itemStyle:{color:'#9e9ac8',opacity:0.85},silent:true}
    ]
  };
  ch.setOption(opt);
});

CAPTIONS.forEach((c,i)=>{
  const d=document.createElement('div');d.className='cap';
  d.style.left=CAP_COLS[i%3]+'px';d.style.top=CAP_TOP[Math.floor(i/3)]+'px';
  d.innerHTML=c;document.body.appendChild(d);
});
if(problems.length) throw new Error('length mismatch: '+problems.join(', '));
</script>
</body></html>
